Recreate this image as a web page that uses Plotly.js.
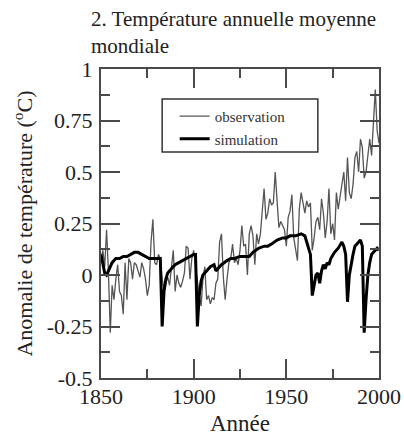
<!DOCTYPE html>
<html>
<head>
<meta charset="utf-8">
<script src="https://cdn.plot.ly/plotly-3.0.1.min.js"></script>
<style>html,body{margin:0;padding:0;background:#fff;}#chart{width:404px;height:437px;}</style>
</head>
<body>
<div id="chart"></div>
<script>
// Observed annual global mean temperature anomaly (°C), 1850-2000
var obsYears = [];
for (var y = 1850; y <= 2000; y++) obsYears.push(y);
var obsValues = [
  0.08, 0.12, 0.04, 0.22, 0.02, -0.28, -0.05, -0.12, -0.02, 0.05,
  -0.08, -0.10, -0.19, 0.06, -0.12, 0.08, 0.06, -0.02, 0.06, 0.05,
  0.02, -0.01, 0.06, 0.03, -0.02, -0.10, -0.05, 0.16, 0.27, 0.06,
  0.05, 0.10, 0.08, -0.02, -0.07, -0.04, -0.01, -0.05, 0.04, 0.12,
  -0.08, 0.00, -0.04, -0.06, -0.03, 0.01, 0.14, 0.13, -0.02, 0.08,
  0.12, 0.05, -0.04, -0.10, -0.15, -0.02, 0.04, -0.12, -0.10, -0.14,
  -0.11, -0.12, -0.04, -0.02, 0.16, 0.20, -0.01, -0.12, -0.02, 0.06,
  0.08, 0.15, 0.06, 0.08, 0.05, 0.12, 0.24, 0.14, 0.15, 0.00,
  0.20, 0.24, 0.19, 0.05, 0.20, 0.15, 0.20, 0.32, 0.42, 0.27,
  0.30, 0.37, 0.34, 0.35, 0.50, 0.36, 0.23, 0.26, 0.24, 0.22,
  0.14, 0.28, 0.31, 0.39, 0.18, 0.13, 0.07, 0.32, 0.40, 0.35,
  0.30, 0.36, 0.33, 0.35, 0.12, 0.18, 0.26, 0.28, 0.22, 0.37,
  0.30, 0.18, 0.26, 0.42, 0.20, 0.25, 0.17, 0.40, 0.32, 0.38,
  0.45, 0.50, 0.36, 0.57, 0.40, 0.37, 0.44, 0.57, 0.60, 0.50,
  0.66, 0.62, 0.47, 0.50, 0.58, 0.66, 0.58, 0.72, 0.90, 0.70,
  0.64
];

// Simulated anomaly (°C)
var simYears = [
  1850, 1851, 1852, 1853, 1854, 1855, 1856, 1857, 1858, 1860,
  1862, 1864, 1866, 1868, 1870, 1872, 1874, 1876, 1878, 1880,
  1882, 1883, 1884, 1885, 1886, 1888, 1890, 1892, 1894, 1896,
  1898, 1900, 1901, 1902, 1903, 1904, 1905, 1907, 1909, 1911,
  1912, 1913, 1915, 1918, 1920, 1922, 1925, 1928, 1930, 1932,
  1935, 1938, 1940, 1942, 1945, 1948, 1950, 1952, 1955, 1958,
  1960, 1961, 1963, 1964, 1965, 1966, 1967, 1968, 1969, 1970,
  1971, 1972, 1973, 1974, 1976, 1978, 1980, 1981, 1982, 1983,
  1984, 1985, 1986, 1987, 1988, 1989, 1990, 1991, 1992, 1993,
  1994, 1995, 1996, 1997, 1998, 1999, 2000
];
var simValues = [
  0.10, 0.05, 0.01, 0.00, 0.02, 0.04, 0.06, 0.07, 0.08, 0.08,
  0.09, 0.09, 0.10, 0.11, 0.11, 0.10, 0.09, 0.08, 0.08, 0.08,
  0.08, -0.25, -0.08, -0.02, 0.01, 0.03, 0.05, 0.06, 0.07, 0.08,
  0.09, 0.10, 0.10, -0.25, -0.10, -0.03, 0.00, 0.02, 0.04, 0.05,
  0.02, 0.03, 0.05, 0.07, 0.08, 0.08, 0.09, 0.09, 0.09, 0.11,
  0.13, 0.14, 0.14, 0.15, 0.17, 0.18, 0.18, 0.19, 0.19, 0.20,
  0.19, 0.16, 0.10, -0.10, -0.04, 0.00, 0.01, -0.04, 0.02, 0.05,
  0.03, 0.06, 0.05, 0.08, 0.11, 0.13, 0.16, 0.14, 0.10, -0.13,
  0.00, 0.06, 0.10, 0.14, 0.15, 0.16, 0.17, 0.14, -0.28, -0.12,
  0.00, 0.06, 0.10, 0.11, 0.12, 0.13, 0.12
];

var yTickVals = [-0.5, -0.25, 0, 0.25, 0.5, 0.75, 1];
var yTickText = ['-0.5', '-0.25', '0', '0.25', '0.5', '0.75', '1'];
var xTickVals = [1850, 1900, 1950, 2000];
var xTickText = ['1850', '1900', '1950', '2000'];

var serif = 'Liberation Serif, Times New Roman, serif';
var axisColor = '#4a4a4a';

var traces = [
  {
    x: obsYears, y: obsValues, type: 'scatter', mode: 'lines',
    name: 'observation',
    line: {color: '#555555', width: 1.3}
  },
  {
    x: simYears, y: simValues, type: 'scatter', mode: 'lines',
    name: 'simulation',
    line: {color: '#000000', width: 3}
  }
];

var layout = {
  width: 404, height: 437,
  margin: {l: 101, r: 25, t: 69, b: 59},
  paper_bgcolor: '#ffffff', plot_bgcolor: '#ffffff',
  font: {family: serif, color: '#222'},
  showlegend: true,
  title: {
    text: '2. Température annuelle moyenne<br>mondiale',
    font: {family: serif, size: 21, color: '#222'},
    xref: 'container', yref: 'container',
    x: 91 / 404, xanchor: 'left',
    y: 1 - 26 / 437, yanchor: 'top'
  },
  xaxis: {
    range: [1850, 2000],
    tickmode: 'array', tickvals: xTickVals, ticktext: xTickText,
    ticks: 'inside', ticklen: 19, tickwidth: 2, tickcolor: axisColor,
    minor: {dtick: 25, tick0: 1850, ticks: 'inside', ticklen: 9, tickwidth: 2, tickcolor: axisColor},
    showline: true, linecolor: axisColor, linewidth: 2, mirror: 'ticks',
    showgrid: false, zeroline: false,
    tickfont: {family: serif, size: 22, color: '#222'},
    ticklabelstandoff: -2,
    title: {text: 'Année', font: {family: serif, size: 23, color: '#222'}, standoff: 6}
  },
  yaxis: {
    range: [-0.5, 1],
    tickmode: 'array', tickvals: yTickVals, ticktext: yTickText,
    ticks: 'inside', ticklen: 19, tickwidth: 2, tickcolor: axisColor,
    minor: {dtick: 0.125, tick0: -0.5, ticks: 'inside', ticklen: 9, tickwidth: 2, tickcolor: axisColor},
    showline: true, linecolor: axisColor, linewidth: 2, mirror: 'ticks',
    showgrid: false, zeroline: false,
    tickfont: {family: serif, size: 22, color: '#222'},
    ticklabelstandoff: 2,
    title: {text: 'Anomalie de température (<sup>o</sup>C)', font: {family: serif, size: 22, color: '#222'}, standoff: 8}
  },
  legend: {
    x: 0.265, xanchor: 'left', y: 0.9, yanchor: 'top',
    bgcolor: 'rgba(0,0,0,0)', borderwidth: 0,
    font: {family: serif, size: 15, color: '#333'},
    tracegroupgap: 0, itemwidth: 30
  },
  shapes: [{
    type: 'rect', xref: 'paper', yref: 'paper',
    x0: 0.22, x1: 0.78, y0: 0.731, y1: 0.903,
    line: {color: '#333', width: 1.5}, fillcolor: 'rgba(0,0,0,0)', layer: 'above'
  }]
};

Plotly.newPlot('chart', traces, layout, {displayModeBar: false, staticPlot: true});
</script>
</body>
</html>
